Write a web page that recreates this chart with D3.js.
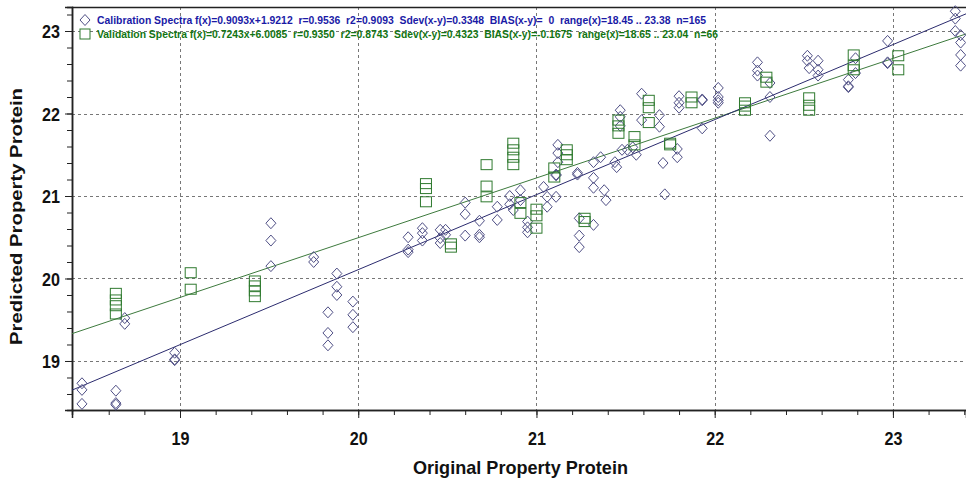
<!DOCTYPE html>
<html lang="en">
<head>
  <meta charset="UTF-8">
  <title>Predicted vs Original Property Protein</title>
  <script src="https://d3js.org/d3.v7.min.js"></script>
  <style>
    body { margin: 0; background: #fff; }
  </style>
</head>
<body>
  <svg id="chart" width="966" height="480"></svg>

  <script>
    // Calibration spectra (diamonds)
    const calX = [18.45,18.45,18.45,18.64,18.64,18.64,18.69,18.69,18.97,18.97,18.97,
      19.51,19.51,19.51,19.75,19.75,19.88,19.88,19.88,19.83,19.83,19.83,19.97,19.97,19.97,
      20.28,20.28,20.28,20.36,20.36,20.36,20.46,20.46,20.46,20.49,20.49,20.60,20.60,20.60,
      20.68,20.68,20.68,20.78,20.78,20.85,20.85,20.87,20.91,20.91,20.95,20.95,20.95,
      21.04,21.06,21.06,21.11,21.12,21.12,21.12,21.11,21.11,21.23,21.23,21.24,21.24,21.24,
      21.32,21.32,21.32,21.32,21.36,21.38,21.39,21.44,21.45,21.47,21.47,21.47,21.48,21.51,
      21.54,21.56,21.59,21.59,21.69,21.69,21.80,21.80,21.80,21.93,21.93,21.93,
      22.02,22.02,22.02,22.02,21.71,21.79,21.79,21.72,22.24,22.24,22.24,22.31,22.31,22.31,
      22.52,22.52,22.53,22.58,22.58,22.58,22.79,22.79,22.75,22.75,22.75,22.97,22.97,22.97,
      23.35,23.35,23.35,23.38,23.38,23.38,23.38];
    const calY = [18.73,18.65,18.48,18.64,18.49,18.47,19.52,19.45,19.10,19.02,19.01,
      20.67,20.46,20.15,20.26,20.20,20.06,19.90,19.80,19.59,19.34,19.19,19.72,19.56,19.41,
      20.50,20.35,20.32,20.61,20.55,20.46,20.59,20.49,20.43,20.59,20.53,20.92,20.78,20.52,
      20.70,20.53,20.50,20.87,20.71,21.00,20.90,20.83,21.07,20.95,20.62,20.56,20.69,
      21.11,20.99,20.87,20.99,21.62,21.52,21.41,21.26,21.25,21.28,21.26,20.73,20.52,20.38,
      20.65,21.41,21.22,21.10,21.47,21.07,20.95,21.41,21.35,22.04,21.96,21.85,21.56,21.56,
      21.59,21.50,22.24,21.92,21.98,21.84,22.21,22.13,22.07,22.16,22.17,21.82,
      22.31,22.20,22.13,22.16,21.40,21.57,21.47,21.02,22.62,22.52,22.46,22.20,22.37,21.73,
      22.70,22.64,22.55,22.64,22.53,22.46,22.67,22.49,22.41,22.32,22.33,22.88,22.61,22.62,
      23.24,23.15,23.00,22.86,22.71,22.58,22.95];

    // Validation spectra (squares)
    const valX = [18.64,18.64,18.64,18.64,19.06,19.06,19.42,19.42,19.42,19.42,
      20.38,20.38,20.38,20.52,20.52,20.72,20.72,20.72,20.87,20.87,20.87,20.87,20.91,20.91,
      21.00,21.00,21.00,21.10,21.10,21.17,21.17,21.17,21.27,21.27,21.46,21.46,21.46,21.55,21.55,
      21.63,21.63,21.63,21.75,21.75,21.87,21.87,22.17,22.17,22.17,22.29,22.29,
      22.53,22.53,22.53,22.78,22.78,22.78,23.03,23.03];
    const valY = [19.82,19.74,19.67,19.57,20.07,19.87,19.97,19.91,19.85,19.78,
      21.15,21.09,20.93,20.38,20.42,21.38,21.12,20.99,21.64,21.56,21.47,21.38,20.92,20.79,
      20.84,20.76,20.61,21.34,21.23,21.56,21.44,21.50,20.73,20.69,21.92,21.76,21.85,21.72,21.62,
      22.16,22.07,21.89,21.62,21.64,22.20,22.13,22.13,22.04,22.09,22.44,22.38,
      22.19,22.10,22.04,22.71,22.58,22.53,22.70,22.53];

    // fit lines from the legend
    const calFit = { slope: 0.9093, icpt: 1.9212 };
    const valFit = { slope: 0.7243, icpt: 6.0085 };

    const xMajor = [19, 20, 21, 22, 23];
    const yMajor = [19, 20, 21, 22, 23];
    const xMinor = d3.range(93, 118).map(d => d / 5);   // 18.6 .. 23.4
    const yMinor = d3.range(93, 117).map(d => d / 5);   // 18.6 .. 23.2

    const legendLines = [
      "Calibration Spectra f(x)=0.9093x+1.9212  r=0.9536  r2=0.9093  Sdev(x-y)=0.3348  BIAS(x-y)=  0  range(x)=18.45 .. 23.38  n=165",
      "Validation Spectra f(x)=0.7243x+6.0085  r=0.9350  r2=0.8743  Sdev(x-y)=0.4323  BIAS(x-y)=-0.1675  range(x)=18.65 .. 23.04  n=66"
    ];

    const svg = d3.select('#chart');
    const pLeft = 72, pRight = 966, pTop = 7, pBottom = 410;

    const x = d3.scaleLinear().domain([18.394, 23.41]).range([pLeft, pRight]);
    const y = d3.scaleLinear().domain([18.406, 23.291]).range([pBottom, pTop]);

    const font = '"Liberation Sans", Arial, sans-serif';

    // grid
    const grid = svg.append('g').attr('stroke', '#777').attr('stroke-dasharray', '3,3').attr('stroke-width', 1);
    grid.selectAll('.gx').data(xMajor).join('line')
      .attr('x1', d => Math.round(x(d)) + 0.5).attr('x2', d => Math.round(x(d)) + 0.5)
      .attr('y1', pTop).attr('y2', pBottom);
    grid.selectAll('.gy').data(yMajor).join('line')
      .attr('y1', d => Math.round(y(d)) + 0.5).attr('y2', d => Math.round(y(d)) + 0.5)
      .attr('x1', pLeft).attr('x2', pRight);

    // frame top
    svg.append('line').attr('x1', pLeft).attr('x2', pRight).attr('y1', pTop + 0.5).attr('y2', pTop + 0.5)
      .attr('stroke', '#222').attr('stroke-width', 1.5);

    // axes
    const xAxisMinor = d3.axisBottom(x).tickValues(xMinor).tickSize(5).tickFormat('');
    const xAxisMajor = d3.axisBottom(x).tickValues(xMajor).tickSize(8).tickFormat(d3.format('d'));
    const yAxisMinor = d3.axisLeft(y).tickValues(yMinor).tickSize(5).tickFormat('');
    const yAxisMajor = d3.axisLeft(y).tickValues(yMajor).tickSize(7).tickFormat(d3.format('d'));

    const gx = svg.append('g').attr('transform', `translate(0,${pBottom})`);
    gx.call(xAxisMinor);
    gx.append('g').call(xAxisMajor);
    gx.selectAll('path.domain').attr('stroke', '#222').attr('stroke-width', 1.5);
    gx.selectAll('.tick line').attr('stroke', '#222');
    gx.selectAll('text').attr('y', 0).attr('dy', null)
      .attr('transform', 'translate(0,35) scale(0.85,1)')
      .attr('font-family', font).attr('font-weight', 'bold')
      .attr('font-size', 19).attr('fill', '#111');

    const gy = svg.append('g').attr('transform', `translate(${pLeft},0)`);
    gy.call(yAxisMinor);
    gy.append('g').call(yAxisMajor);
    gy.selectAll('path.domain').attr('stroke', '#222').attr('stroke-width', 1.5);
    gy.selectAll('.tick line').attr('stroke', '#222');
    gy.selectAll('text').attr('x', 0).attr('dy', '0.35em')
      .attr('transform', 'translate(-12,0) scale(0.85,1)')
      .attr('font-family', font).attr('font-weight', 'bold')
      .attr('font-size', 19).attr('fill', '#111');

    // axis titles
    svg.append('text').attr('x', 413).attr('y', 474)
      .attr('textLength', 215).attr('lengthAdjust', 'spacingAndGlyphs')
      .attr('font-family', font).attr('font-weight', 'bold').attr('font-size', 19).attr('fill', '#111')
      .text('Original Property Protein');
    svg.append('text').attr('transform', 'translate(22,345) rotate(-90)')
      .attr('textLength', 257).attr('lengthAdjust', 'spacingAndGlyphs')
      .attr('font-family', font).attr('font-weight', 'bold').attr('font-size', 17).attr('fill', '#111')
      .text('Predicted Property Protein');

    // fit lines
    const dom = x.domain();
    const fitLine = d3.line().x(d => x(d[0])).y(d => y(d[1]));
    svg.append('path').datum(dom.map(v => [v, valFit.slope * v + valFit.icpt]))
      .attr('d', fitLine).attr('fill', 'none').attr('stroke', '#3d7a3d').attr('stroke-width', 1);
    svg.append('path').datum(dom.map(v => [v, calFit.slope * v + calFit.icpt]))
      .attr('d', fitLine).attr('fill', 'none').attr('stroke', '#2b2b6e').attr('stroke-width', 1);

    const diamond = 'M0,-5.5L5,0L0,5.5L-5,0Z';

    // points
    svg.append('g').selectAll('path').data(calX.map((v, i) => [v, calY[i]])).join('path')
      .attr('transform', d => `translate(${x(d[0])},${y(d[1])})`)
      .attr('d', diamond).attr('fill', 'none').attr('stroke', '#4f4f85').attr('stroke-width', 1);

    svg.append('g').selectAll('rect').data(valX.map((v, i) => [v, valY[i]])).join('rect')
      .attr('x', d => x(d[0]) - 5.5).attr('y', d => y(d[1]) - 5)
      .attr('width', 11).attr('height', 10)
      .attr('fill', 'none').attr('stroke', '#2f7a2f').attr('stroke-width', 1);

    // legend
    const lg = svg.append('g');
    lg.append('path').attr('transform', 'translate(85,20)').attr('d', diamond)
      .attr('fill', '#fff').attr('stroke', '#4f4f85');
    lg.append('rect').attr('x', 80).attr('y', 29).attr('width', 10).attr('height', 10)
      .attr('fill', '#fff').attr('stroke', '#2f7a2f');
    lg.append('text').attr('x', 97).attr('y', 23.5).attr('textLength', 609).attr('lengthAdjust', 'spacingAndGlyphs')
      .attr('font-family', font).attr('font-weight', 'bold').attr('font-size', 10).attr('fill', '#1a1aa6')
      .attr('xml:space', 'preserve').style('white-space', 'pre')
      .text(legendLines[0]);
    lg.append('text').attr('x', 97).attr('y', 37.5).attr('textLength', 621).attr('lengthAdjust', 'spacingAndGlyphs')
      .attr('font-family', font).attr('font-weight', 'bold').attr('font-size', 10).attr('fill', '#137513')
      .attr('xml:space', 'preserve').style('white-space', 'pre')
      .text(legendLines[1]);
  </script>
</body>
</html>
